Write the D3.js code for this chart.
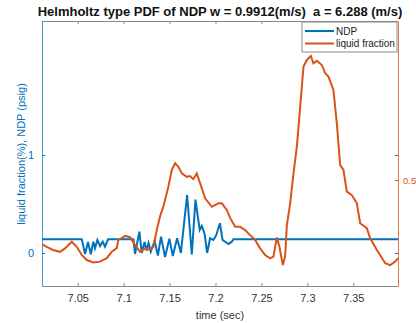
<!DOCTYPE html>
<html>
<head>
<meta charset="utf-8">
<script src="https://cdn.jsdelivr.net/npm/d3@7/dist/d3.min.js"></script>
<style>
  body { margin: 0; background: #fff; }
  svg { font-family: "Liberation Sans", Arial, sans-serif; }
</style>
</head>
<body>
<div id="chart"></div>
<script>
// NDP pressure (left axis, psig)
var ndpTime = [7.0111, 7.0544, 7.0580, 7.0612, 7.0642, 7.0670, 7.0688, 7.0714, 7.0743, 7.0772, 7.0797, 7.0830,
    7.1106, 7.1124, 7.1171, 7.1197, 7.1228, 7.1249, 7.1271, 7.1295, 7.1337, 7.1373, 7.1407, 7.1451, 7.1498,
    7.1535, 7.1582, 7.1623, 7.1691, 7.1742, 7.1782, 7.1828, 7.1851, 7.1881, 7.1909, 7.1941, 7.1977, 7.2007,
    7.2048, 7.2077, 7.2105, 7.2141, 7.2178, 7.2195, 7.3989];
var ndpValue = [0.14, 0.14, -0.01, 0.112, -0.013, 0.115, 0.048, 0.133, 0.071, 0.115, 0.064, 0.14,
    0.14, -0.01, 0.217, 0.0, 0.112, 0.026, 0.102, 0.013, 0.122, -0.026, 0.166, -0.041, 0.146,
    -0.031, 0.15, 0.0, 0.592, -0.015, 0.545, 0.235, 0.278, 0.194, 0.0, 0.15, 0.133, 0.179,
    0.303, 0.133, 0.115, 0.092, 0.115, 0.14, 0.14];

// liquid fraction (right axis)
var lfTime = [7.0111, 7.0162, 7.0231, 7.0307, 7.0362, 7.0435, 7.0489, 7.0544, 7.0598, 7.0670, 7.0743, 7.0816,
    7.0870, 7.0925, 7.0942, 7.0979, 7.1015, 7.1070, 7.1124, 7.1179, 7.1233, 7.1288, 7.1324, 7.1361, 7.1397,
    7.1432, 7.1451, 7.1487, 7.1524, 7.1560, 7.1596, 7.1633, 7.1687, 7.1723, 7.1759, 7.1796, 7.1832, 7.1887,
    7.1960, 7.2032, 7.2069, 7.2123, 7.2159, 7.2214, 7.2268, 7.2322, 7.2377, 7.2431, 7.2486, 7.2540, 7.2595,
    7.2631, 7.2668, 7.2696, 7.2733, 7.2758, 7.2777, 7.2813, 7.2849, 7.2886, 7.2922, 7.2958, 7.2995, 7.3038,
    7.3066, 7.3103, 7.3158, 7.3194, 7.3230, 7.3284, 7.3321, 7.3357, 7.3393, 7.3430, 7.3485, 7.3539, 7.3575,
    7.3648, 7.3684, 7.3757, 7.3848, 7.3902, 7.3956, 7.3989];
var lfValue = [0.258, 0.248, 0.236, 0.229, 0.242, 0.267, 0.248, 0.217, 0.198, 0.189, 0.192, 0.205,
    0.229, 0.243, 0.274, 0.281, 0.289, 0.284, 0.255, 0.229, 0.242, 0.236, 0.248, 0.311, 0.364,
    0.399, 0.425, 0.475, 0.538, 0.563, 0.550, 0.525, 0.512, 0.515, 0.503, 0.525, 0.488, 0.431,
    0.399, 0.412, 0.412, 0.387, 0.357, 0.324, 0.324, 0.311, 0.292, 0.274, 0.242, 0.217, 0.204,
    0.211, 0.283, 0.248, 0.179, 0.211, 0.330, 0.412, 0.525, 0.626, 0.777, 0.928, 0.953, 0.968,
    0.940, 0.950, 0.934, 0.903, 0.890, 0.840, 0.714, 0.557, 0.538, 0.456, 0.443, 0.412, 0.337,
    0.318, 0.280, 0.236, 0.186, 0.179, 0.192, 0.205];

var xTicks = [7.05, 7.1, 7.15, 7.2, 7.25, 7.3, 7.35];
var xTickLabels = ["7.05", "7.1", "7.15", "7.2", "7.25", "7.3", "7.35"];
var leftTicks = [0, 1];
var rightTicks = [0.5];

var blue = "#0072BD", orange = "#D95319";
var W = 416, H = 323;
var pL = 42, pR = 398, pT = 21, pB = 286;

var svg = d3.select("#chart").append("svg")
    .attr("width", W)
    .attr("height", H);

var x = d3.scaleLinear().domain([7.0111, 7.3987]).range([pL, pR]);
var yL = d3.scaleLinear().domain([-0.337, 2.367]).range([pB, pT]);
var yR = d3.scaleLinear().domain([0.1, 1.1]).range([pB, pT]);

svg.append("clipPath").attr("id", "clip")
    .append("rect").attr("x", pL).attr("y", pT)
    .attr("width", pR - pL).attr("height", pB - pT);

// box top line
svg.append("line").attr("x1", pL).attr("x2", pR).attr("y1", pT + 0.5).attr("y2", pT + 0.5)
    .attr("stroke", "#8a8a8a");

// x axis bottom
var xAxis = d3.axisBottom(x).tickValues(xTicks)
    .tickFormat(function (d, i) { return xTickLabels[i]; })
    .tickSizeInner(-3).tickSizeOuter(0).tickPadding(8);
var gx = svg.append("g").attr("transform", "translate(0," + pB + ")").call(xAxis);
gx.select(".domain").attr("stroke", "#8a8a8a");
gx.selectAll(".tick line").attr("stroke", "#8a8a8a");
gx.selectAll("text").attr("fill", "#333").style("font-size", "11px");

// top ticks
var xTop = d3.axisTop(x).tickValues(xTicks).tickFormat("").tickSizeInner(-3).tickSizeOuter(0);
var gt = svg.append("g").attr("transform", "translate(0," + pT + ")").call(xTop);
gt.select(".domain").remove();
gt.selectAll(".tick line").attr("stroke", "#8a8a8a");

// left axis
var yAxisL = d3.axisLeft(yL).tickValues(leftTicks).tickFormat(d3.format("d"))
    .tickSizeInner(-3).tickSizeOuter(0).tickPadding(8);
var gl = svg.append("g").attr("transform", "translate(" + pL + ",0)").call(yAxisL);
gl.select(".domain").attr("stroke", blue).attr("opacity", 0.7);
gl.selectAll(".tick line").attr("stroke", blue);
gl.selectAll("text").attr("fill", blue).style("font-size", "11px");

// mirrored left ticks on right side
var gl2 = svg.append("g").attr("transform", "translate(" + pR + ",0)")
    .call(d3.axisRight(yL).tickValues(leftTicks).tickFormat("").tickSizeInner(-3).tickSizeOuter(0));
gl2.select(".domain").remove();
gl2.selectAll(".tick line").attr("stroke", blue);

// right axis
var yAxisR = d3.axisRight(yR).tickValues(rightTicks).tickFormat(d3.format(".1f"))
    .tickSizeInner(-3).tickSizeOuter(0).tickPadding(5);
var gr = svg.append("g").attr("transform", "translate(" + pR + ",0)").call(yAxisR);
gr.select(".domain").attr("stroke", orange).attr("opacity", 0.8);
gr.selectAll(".tick line").attr("stroke", orange);
gr.selectAll("text").attr("fill", orange).style("font-size", "9.5px");

// lines
var ndp = ndpTime.map(function (t, i) { return [t, ndpValue[i]]; });
var lf = lfTime.map(function (t, i) { return [t, lfValue[i]]; });

var plot = svg.append("g").attr("clip-path", "url(#clip)");
plot.append("path").datum(ndp)
    .attr("d", d3.line().x(function (d) { return x(d[0]); }).y(function (d) { return yL(d[1]); }))
    .attr("fill", "none").attr("stroke", blue).attr("stroke-width", 2);
plot.append("path").datum(lf)
    .attr("d", d3.line().x(function (d) { return x(d[0]); }).y(function (d) { return yR(d[1]); }))
    .attr("fill", "none").attr("stroke", orange).attr("stroke-width", 2);

// title and labels
svg.append("text").attr("x", 220).attr("y", 16).attr("text-anchor", "middle")
    .style("font-size", "13px").style("font-weight", "bold").attr("fill", "#111")
    .style("white-space", "pre")
    .text("Helmholtz type PDF of NDP w = 0.9912(m/s)  a = 6.288 (m/s)");

svg.append("text").attr("x", 220).attr("y", 319).attr("text-anchor", "middle")
    .style("font-size", "11px").attr("fill", "#333").text("time (sec)");

svg.append("text").attr("transform", "translate(25,154) rotate(-90)")
    .attr("text-anchor", "middle").style("font-size", "11px").attr("fill", blue)
    .text("liquid fraction(%), NDP (psig)");

// legend
var lg = svg.append("g").attr("transform", "translate(302,22)");
lg.append("rect").attr("width", 95).attr("height", 30)
    .attr("fill", "#fff").attr("stroke", "#8a8a8a");
var legendItems = [["NDP", blue], ["liquid fraction", orange]];
legendItems.forEach(function (d, i) {
    var yy = 9 + i * 12.5;
    lg.append("line").attr("x1", 3).attr("x2", 32).attr("y1", yy).attr("y2", yy)
        .attr("stroke", d[1]).attr("stroke-width", 2);
    lg.append("text").attr("x", 34).attr("y", yy + 3.5).style("font-size", "10px")
        .attr("fill", "#222").text(d[0]);
});
</script>
</body>
</html>
